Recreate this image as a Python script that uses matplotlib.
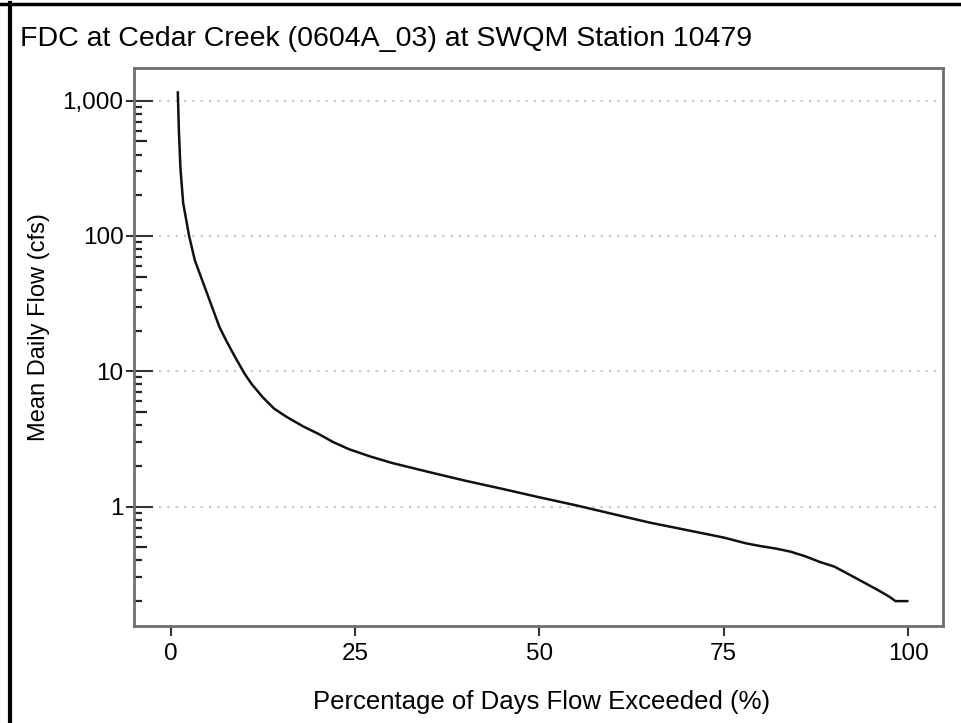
import numpy as np
import matplotlib
matplotlib.use("Agg")
import matplotlib.pyplot as plt
from matplotlib.lines import Line2D
from matplotlib.ticker import FixedLocator, NullFormatter

plt.rcParams['font.family'] = ['Liberation Sans', 'DejaVu Sans']

# flow duration curve
pct_exceeded = [0.95, 1.09, 1.3, 1.67, 2.48, 3.26, 4.9, 6.6, 7.6, 8.8, 10.0, 11.0,
                12.5, 14.0, 15.7, 18.0, 20.0, 22.0, 24.2, 27.0, 30.0, 35.0, 40.0,
                45.0, 50.0, 55.0, 60.0, 65.0, 70.0, 75.0, 78.0, 80.0, 82.0, 84.0,
                86.0, 88.0, 90.0, 92.0, 94.0, 96.0, 97.5, 98.3, 99.9]
flow_cfs = [1150, 610, 320, 176, 100, 66, 37.8, 21.2, 16.5, 12.5, 9.6, 8.0,
            6.4, 5.3, 4.6, 3.9, 3.45, 3.0, 2.65, 2.35, 2.1, 1.8, 1.55,
            1.35, 1.17, 1.02, 0.88, 0.76, 0.67, 0.59, 0.535, 0.51, 0.49, 0.465,
            0.43, 0.39, 0.36, 0.315, 0.275, 0.24, 0.215, 0.2, 0.2]

xticks = [0, 25, 50, 75, 100]
yticks = [1, 10, 100, 1000]
ytick_labels = ['1', '10', '100', '1,000']
minor_small = [m * 10.0 ** e for e in range(-1, 4) for m in (2, 3, 4, 6, 7, 8, 9)]
minor_five = [5 * 10.0 ** e for e in range(-1, 4)]

title = 'FDC at Cedar Creek (0604A_03) at SWQM Station 10479'
xlabel = 'Percentage of Days Flow Exceeded (%)'
ylabel = 'Mean Daily Flow (cfs)'

fig = plt.figure(figsize=(9.61, 7.23), dpi=100)
ax = fig.add_axes([0.1394, 0.1342, 0.8419, 0.7718])

ax.plot(pct_exceeded, flow_cfs, color='#111111', lw=1.8)

ax.set_yscale('log')
ax.set_xlim(-5.0, 104.75)
ax.set_ylim(0.131, 1745)

spine_col = '#6e6e6e'
for s in ax.spines.values():
    s.set_color(spine_col)
    s.set_linewidth(2.0)

# gridlines only at decades
for v in yticks:
    ax.axhline(v, color='#c4c4c4', lw=1.5, ls=(0, (1, 3)), zorder=0)

ax.set_xticks(xticks)
ax.set_xticklabels([str(v) for v in xticks])
ax.tick_params(axis='x', direction='out', length=7, width=1.5, color='#333333',
               labelsize=17.5, pad=5)

ax.yaxis.set_major_locator(FixedLocator(yticks))
ax.set_yticklabels(ytick_labels)
ax.yaxis.set_minor_locator(FixedLocator(minor_small))
ax.yaxis.set_minor_formatter(NullFormatter())
ax.tick_params(axis='y', which='major', direction='out', length=6, width=1.5,
               color='#333333', labelsize=17.5, pad=1.5)
ax.tick_params(axis='y', which='minor', direction='in', length=5.5, width=1.6,
               color='#222222')

# inner part of major ticks and the longer 5-ticks
sec = ax.secondary_yaxis('left')
sec.yaxis.set_major_locator(FixedLocator(yticks))
sec.yaxis.set_major_formatter(NullFormatter())
sec.yaxis.set_minor_locator(FixedLocator(minor_five))
sec.yaxis.set_minor_formatter(NullFormatter())
sec.tick_params(which='major', direction='in', length=14, width=1.5, color='#333333')
sec.tick_params(which='minor', direction='in', length=9.5, width=1.6, color='#222222')
sec.spines['left'].set_visible(False)

ax.set_xlabel(xlabel, fontsize=18.5)
ax.xaxis.set_label_coords(0.504, -0.115)
ax.set_ylabel(ylabel, fontsize=17)
ax.yaxis.set_label_coords(-0.104, 0.536)

fig.text(0.021, 1 - 39 / 723, title, fontsize=20.5, va='center', ha='left')

# outer frame (top and left edges)
fig.add_artist(Line2D([0.0, 1.0], [1 - 4 / 723, 1 - 4 / 723], color='black', lw=2.5))
fig.add_artist(Line2D([10 / 961, 10 / 961], [0.0, 1 - 3 / 723], color='black', lw=3))

fig.savefig('out.png', dpi=100)
